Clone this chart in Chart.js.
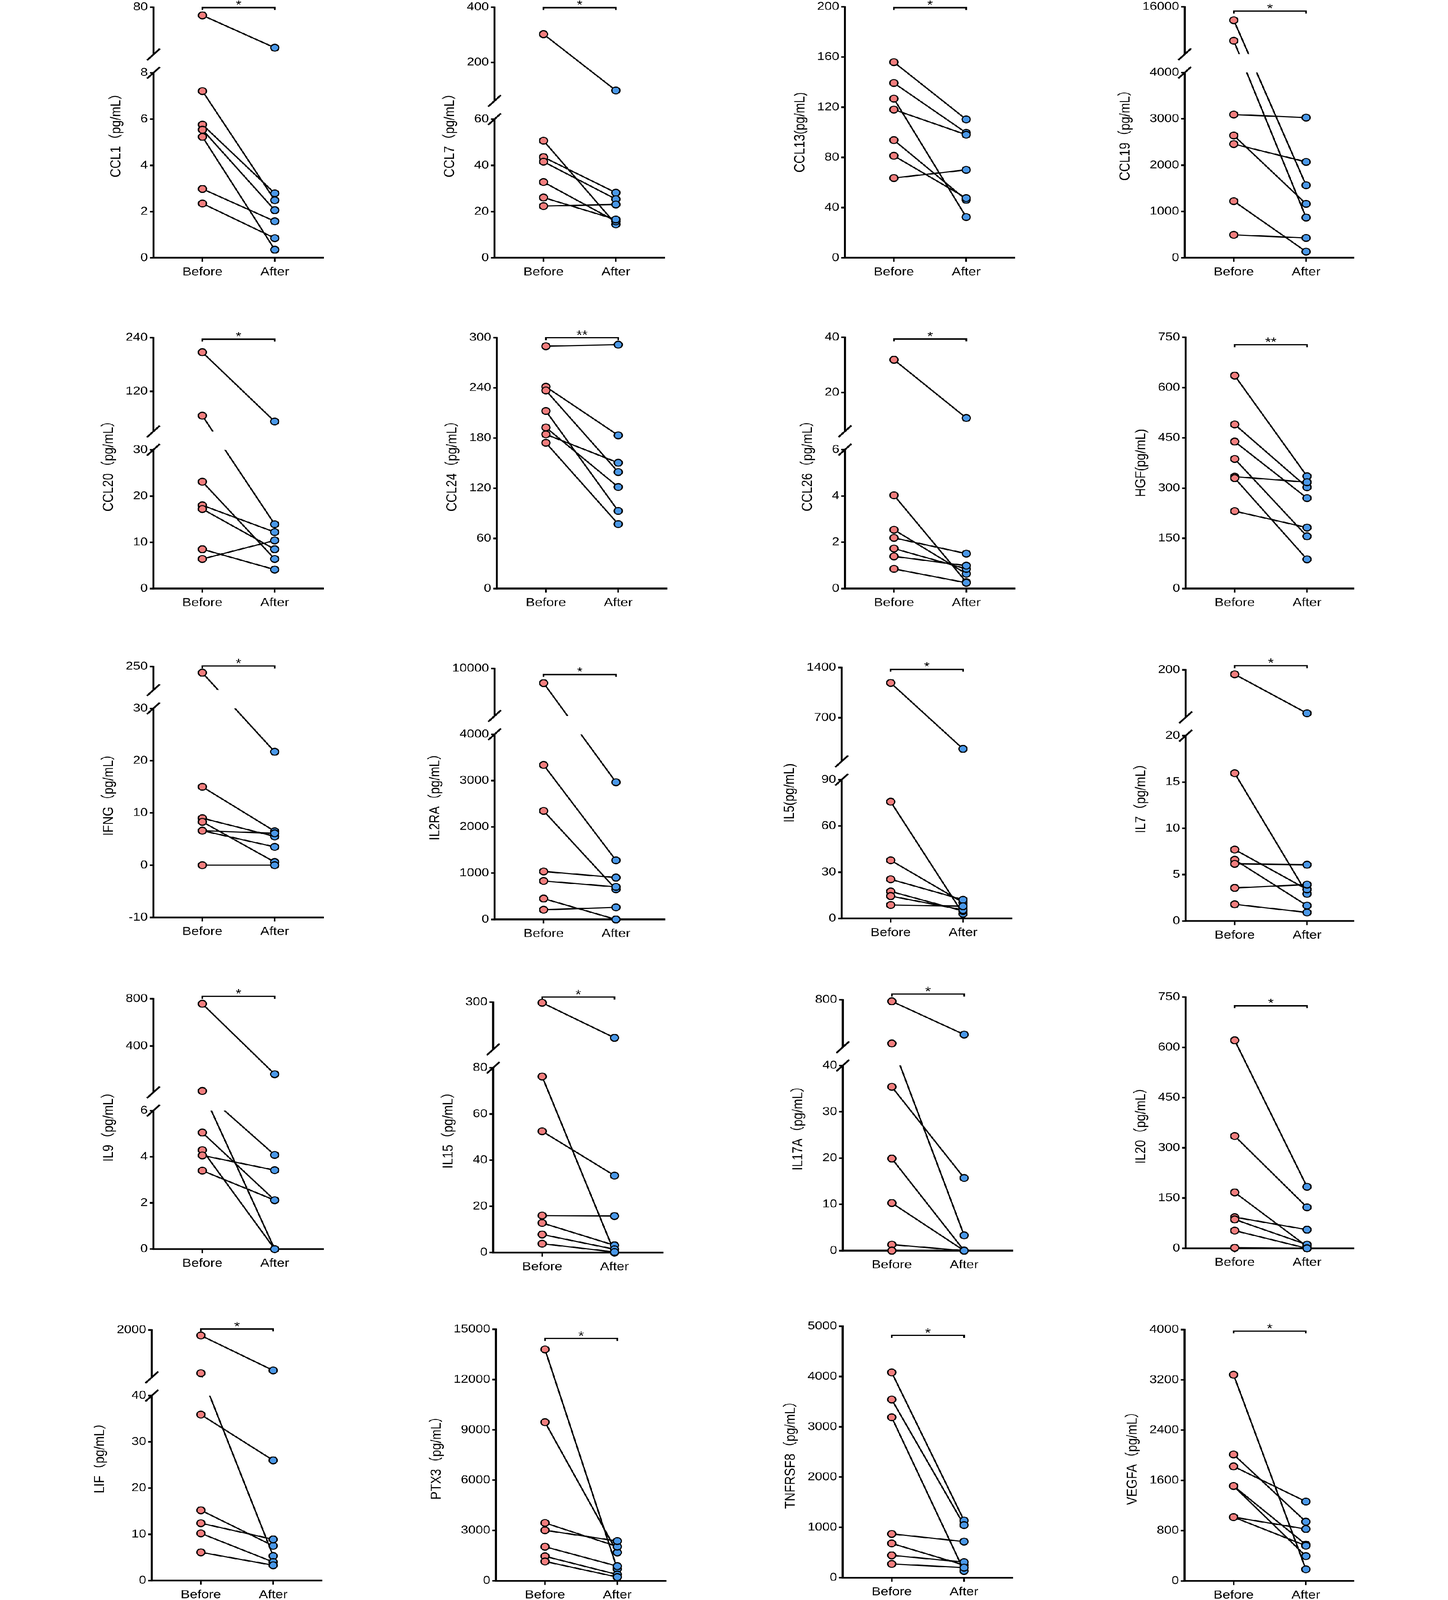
<!DOCTYPE html>
<html>
<head>
<meta charset="utf-8">
<script src="https://cdn.jsdelivr.net/npm/chart.js@4.4.1/dist/chart.umd.min.js"></script>
<style>
  html, body { margin: 0; padding: 0; background: #fff; overflow: hidden; }
  #page { position: relative; width: 3706px; height: 4705px; overflow: hidden; background: #fff;
          transform-origin: 0 0; }
  .panel { position: absolute; transform-origin: 0 0; }
</style>
</head>
<body>
<div id="page"></div>
<script>
// ---- data ----
const markers = ['CCL1', 'CCL7', 'CCL13', 'CCL19',
                 'CCL20', 'CCL24', 'CCL26', 'HGF',
                 'IFNG', 'IL2RA', 'IL5', 'IL7',
                 'IL9', 'IL15', 'IL17A', 'IL20',
                 'LIF', 'PTX3', 'TNFRSF8', 'VEGFA'];

const yTitles = ['CCL1（pg/mL）', 'CCL7（pg/mL）', 'CCL13(pg/mL)', 'CCL19（pg/mL）',
                 'CCL20（pg/mL）', 'CCL24（pg/mL）', 'CCL26（pg/mL）', 'HGF(pg/mL)',
                 'IFNG（pg/mL）', 'IL2RA（pg/mL）', 'IL5(pg/mL)', 'IL7（pg/mL）',
                 'IL9（pg/mL）', 'IL15（pg/mL）', 'IL17A（pg/mL）', 'IL20（pg/mL）',
                 'LIF（pg/mL）', 'PTX3（pg/mL）', 'TNFRSF8（pg/mL）', 'VEGFA（pg/mL）'];

const xLabels = ['Before', 'After'];

const yTicks = [
  [0, 2, 4, 6, 8, 80], [0, 20, 40, 60, 200, 400], [0, 40, 80, 120, 160, 200], [0, 1000, 2000, 3000, 4000, 16000],
  [0, 10, 20, 30, 120, 240], [0, 60, 120, 180, 240, 300], [0, 2, 4, 6, 20, 40], [0, 150, 300, 450, 600, 750],
  [-10, 0, 10, 20, 30, 250], [0, 1000, 2000, 3000, 4000, 10000], [0, 30, 60, 90, 700, 1400], [0, 5, 10, 15, 20, 200],
  [0, 2, 4, 6, 400, 800], [0, 20, 40, 60, 80, 300], [0, 10, 20, 30, 40, 800], [0, 150, 300, 450, 600, 750],
  [0, 10, 20, 30, 40, 2000], [0, 3000, 6000, 9000, 12000, 15000], [0, 1000, 2000, 3000, 4000, 5000], [0, 800, 1600, 2400, 3200, 4000]
];

// value where the lower segment of a broken axis ends (null = unbroken)
const axisBreak = [8, 60, null, 4000,
                   30, null, 6, null,
                   30, 4000, 90, 20,
                   6, 80, 40, null,
                   40, null, null, null];

const beforeVals = [
  [67.5, 7.21, 5.76, 5.54, 5.23, 2.98, 2.35],
  [302, 50.7, 43.6, 41.6, 32.8, 26.1, 22.4],
  [155.9, 139.3, 126.8, 118.1, 93.8, 81.3, 63.6],
  [12600, 7415, 3094, 2642, 2457, 1224, 496],
  [207.4, 65.4, 23.1, 18.0, 17.2, 8.5, 6.4],
  [289.8, 241.3, 236.9, 212.3, 192.6, 184.4, 174.3],
  [31.9, 4.03, 2.54, 2.19, 1.73, 1.39, 0.85],
  [635.9, 490, 438.8, 387, 334.2, 329.7, 231.2],
  [192, 15.0, 9.0, 8.3, 6.6, 6.6, 0],
  [8163, 3337, 2345, 1036, 831, 450, 209],
  [1186, 75.7, 37.7, 25.4, 17.5, 14.5, 8.7],
  [183.4, 15.95, 7.71, 6.61, 6.17, 3.57, 1.80],
  [757, 17.8, 17.8, 5.05, 4.29, 4.06, 3.40],
  [297.3, 76.2, 52.5, 16.0, 12.8, 7.8, 3.8],
  [775.5, 100, 35.4, 19.9, 10.3, 1.3, 0],
  [620.8, 335.2, 167, 93, 86.3, 52.9, 1.7],
  [1773, 212, 35.9, 15.2, 12.4, 10.2, 6.1],
  [13800, 9460, 3450, 3010, 2030, 1460, 1150],
  [4082, 3543, 3190, 871, 682, 445, 273],
  [3282, 2013, 1823, 1511, 1511, 1015, 1015]
];

const afterVals = [
  [18.3, 2.49, 2.79, 2.06, 0.35, 1.58, 0.85],
  [97.9, 14.5, 28.2, 25.4, 15.8, 16.6, 23.1],
  [110.3, 99.6, 32.5, 98.1, 46.2, 47.6, 70.1],
  [1567, 870, 3028, 1165, 2071, 134, 429],
  [52.4, 13.9, 6.4, 12.2, 8.5, 4.1, 10.4],
  [291.6, 183.2, 139.3, 92.8, 121.4, 150.4, 77.1],
  [10.8, 0.28, 0.64, 1.51, 0.85, 0.99, 0.25],
  [335.3, 302.4, 270.1, 156, 317.5, 87.5, 182.1],
  [21.7, 6.5, 5.5, 0.6, 3.5, 6.1, 0],
  [2964, 1277, 651, 904, 703, 0, 261],
  [264, 3.0, 10.3, 12.1, 4.8, 5.5, 7.9],
  [35.5, 2.93, 3.41, 1.66, 6.07, 3.93, 0.92],
  [160.4, 4.08, 0, 2.12, 0, 3.42, 2.12],
  [134.4, 0, 33.3, 15.8, 3.1, 1.4, 0.2],
  [242.6, 3.3, 15.7, 0, 0, 0, 0],
  [183.7, 122.5, 5.6, 55.7, 11.1, 0, 0],
  [326, 5.3, 26.0, 7.5, 8.9, 4.0, 3.3],
  [700, 1690, 2040, 2370, 870, 370, 220],
  [1137, 1046, 135, 718, 251, 310, 200],
  [184, 942, 1263, 394, 578, 826, 560]
];

const signif = ['*', '*', '*', '*',
                '*', '**', '*', '**',
                '*', '*', '*', '*',
                '*', '*', '*', '*',
                '*', '*', '*', '*'];

// ---- layout (page pixels) ----
const bracketAt = [79.2, 398, 199.3, 14905,
                   236.7, 300, 39.4, 727.7,
                   255, 9237, 1374, 215.9,
                   820, 324, 891.6, 723.8,
                   2038, 14454, 4817, 3977];
const breakFrac = [0.738, 0.553, null, 0.738,
                   0.553, null, 0.553, null,
                   0.833, 0.738, 0.553, 0.738,
                   0.553, 0.738, 0.738, null,
                   0.738, null, null, null];
const axisLeft = [175, 1178, 2208, 3207,
                  175, 1185, 2208, 3210,
                  175, 1178, 2199, 3210,
                  175, 1174, 2202, 3210,
                  171, 1182, 2202, 3207];
const axisTop = [21.4, 21.4, 20.4, 20.4,
                 992.9, 992.9, 991.8, 991.8,
                 1960, 1965.7, 1962.9, 1969.5,
                 2937.3, 2946.6, 2939.5, 2931.8,
                 3911.2, 3908.5, 3900.4, 3909.6];
const axisBottom = [758.6, 758.6, 758.6, 758.6,
                    1730.6, 1730.6, 1730.6, 1730.6,
                    2697.9, 2703.4, 2700.6, 2707.8,
                    3673.4, 3682.7, 3677.2, 3670.7,
                    4647.9, 4647.9, 4639.8, 4648.4];

const PAGE_W = 3706, PAGE_H = 4705;
const STRETCH = 1.18;      // the figure is drawn a little wider than tall
const PLOT_W = 495;        // x axis length
const BEFORE_OFF = 143;    // y axis -> Before
const PAIR_GAP = 211;      // Before -> After
const GAP = 0.073;         // size of the axis break
const RED = '#F27E7E';
const BLUE = '#4A98E8';
const FONT = '"Liberation Sans", Arial, sans-serif';
const TITLE_FONT = '"Liberation Sans", "Noto Sans CJK SC", sans-serif';

// linear scale with an optional break: lower part [min, at], upper part [at, max]
class BrokenScale extends Chart.LinearScale {
  getPixelForValue(value) {
    const b = this.options.brk;
    if (!b || value === null || value === undefined) return super.getPixelForValue(value);
    const f = b.frac, g = b.frac + b.gap;
    const d = value <= b.at
      ? (value - this.min) / (b.at - this.min) * f
      : g + (value - b.at) / (this.max - b.at) * (1 - g);
    return this.getPixelForDecimal(d);
  }
  getValueForPixel(pixel) {
    const b = this.options.brk;
    if (!b) return super.getValueForPixel(pixel);
    const d = this.getDecimalForPixel(pixel);
    const f = b.frac, g = b.frac + b.gap;
    if (d <= f) return this.min + d / f * (b.at - this.min);
    return b.at + (d - g) / (1 - g) * (this.max - b.at);
  }
}
BrokenScale.id = 'broken';
BrokenScale.defaults = {};
Chart.register(BrokenScale);

function breakPixels(y) {
  const b = y.options.brk;
  return [y.getPixelForValue(b.at), y.getPixelForDecimal(b.frac + b.gap)];
}

const prismAxis = {
  id: 'prismAxis',
  beforeDatasetDraw(chart, args) {
    const ds = chart.data.datasets[args.index];
    const y = chart.scales.y;
    if (!ds.link || !y.options.brk) return;
    const a = chart.chartArea, ctx = chart.ctx;
    const [pLow, pHigh] = breakPixels(y);
    ctx.save();
    ctx.beginPath();
    ctx.rect(0, 0, chart.width, chart.height);
    ctx.rect(a.left, pHigh, a.right - a.left, pLow - pHigh);
    ctx.clip('evenodd');
  },
  afterDatasetDraw(chart, args) {
    const ds = chart.data.datasets[args.index];
    if (ds.link && chart.scales.y.options.brk) chart.ctx.restore();
  },
  afterDraw(chart, args, opts) {
    const ctx = chart.ctx, x = chart.scales.x, y = chart.scales.y, a = chart.chartArea;
    ctx.save();
    ctx.strokeStyle = '#000';
    ctx.lineWidth = 4.8;
    ctx.lineCap = 'butt';
    const bottom = y.getPixelForValue(y.min) + 2.5;
    const top = y.getPixelForValue(y.max) - 2.25;
    ctx.beginPath();
    if (y.options.brk) {
      const [pLow, pHigh] = breakPixels(y);
      ctx.moveTo(a.left, bottom); ctx.lineTo(a.left, pLow);
      ctx.moveTo(a.left, pHigh); ctx.lineTo(a.left, top);
      [pLow, pHigh].forEach(p => { ctx.moveTo(a.left - 16, p + 17); ctx.lineTo(a.left + 16, p - 17); });
    } else {
      ctx.moveTo(a.left, bottom); ctx.lineTo(a.left, top);
    }
    ctx.stroke();

    // significance bracket
    const x1 = x.getPixelForValue(1), x2 = x.getPixelForValue(2);
    const yb = y.getPixelForValue(opts.bracket);
    ctx.lineWidth = 4;
    ctx.beginPath();
    ctx.moveTo(x1, yb + 7); ctx.lineTo(x1, yb); ctx.lineTo(x2, yb); ctx.lineTo(x2, yb + 7);
    ctx.stroke();
    ctx.fillStyle = '#000';
    ctx.font = '36px ' + FONT;
    ctx.textAlign = 'center';
    ctx.textBaseline = 'alphabetic';
    ctx.fillText(opts.stars, (x1 + x2) / 2, yb + 4);
    ctx.restore();
  }
};

const page = document.getElementById('page');

// the window may be shorter than the figure: shrink the whole page to fit
const fit = Math.min(1, window.innerWidth / PAGE_W, window.innerHeight / PAGE_H);
page.style.transform = 'scale(' + fit + ')';
page.style.marginLeft = ((window.innerWidth - PAGE_W * fit) / 2) + 'px';

markers.forEach((name, i) => {
  const wrap = document.createElement('div');
  wrap.className = 'panel';
  wrap.style.transform = 'scaleX(' + STRETCH + ')';
  const cv = document.createElement('canvas');
  cv.width = 640;
  cv.height = 960;
  wrap.appendChild(cv);
  page.appendChild(wrap);

  const ticks = yTicks[i];
  const datasets = [
    { data: beforeVals[i].map(v => ({ x: 1, y: v })), showLine: false, clip: false,
      pointRadius: 10, pointBackgroundColor: RED, pointBorderColor: '#000', pointBorderWidth: 3.3 },
    { data: afterVals[i].map(v => ({ x: 2, y: v })), showLine: false, clip: false,
      pointRadius: 10, pointBackgroundColor: BLUE, pointBorderColor: '#000', pointBorderWidth: 3.3 }
  ];
  beforeVals[i].forEach((v, k) => {
    datasets.push({ link: true, data: [{ x: 1, y: v }, { x: 2, y: afterVals[i][k] }],
      showLine: true, pointRadius: 0, borderColor: '#000', borderWidth: 3.8, clip: false });
  });

  const opts = {
    responsive: false,
    animation: false,
    devicePixelRatio: 2,
    events: [],
    layout: { padding: { top: 80, left: 0, right: 10, bottom: 10 } },
    plugins: {
      legend: { display: false },
      tooltip: { enabled: false },
      prismAxis: { bracket: bracketAt[i], stars: signif[i] }
    },
    scales: {
      x: {
        type: 'linear',
        min: 1 - BEFORE_OFF / PAIR_GAP,
        max: 1 + (PLOT_W - BEFORE_OFF) / PAIR_GAP,
        afterBuildTicks: s => { s.ticks = [{ value: 1 }, { value: 2 }]; },
        border: { display: true, color: '#000', width: 5.2 },
        grid: { drawOnChartArea: false, drawTicks: true, tickLength: 12, color: '#000', lineWidth: 3.8 },
        ticks: { autoSkip: false, maxRotation: 0, padding: 10, color: '#000',
                 font: { family: FONT, size: 34 },
                 callback: v => (v === 1 ? xLabels[0] : v === 2 ? xLabels[1] : '') }
      },
      y: {
        type: 'broken',
        min: ticks[0],
        max: ticks[ticks.length - 1],
        brk: axisBreak[i] === null ? null : { at: axisBreak[i], frac: breakFrac[i], gap: GAP },
        afterBuildTicks: s => { s.ticks = ticks.map(v => ({ value: v })); },
        border: { display: false },
        grid: { drawOnChartArea: false, drawTicks: true, tickLength: 9, color: '#000', lineWidth: 4.8 },
        ticks: { autoSkip: false, padding: 5, color: '#000',
                 font: { family: FONT, size: 33 }, callback: v => String(v) },
        title: { display: true, text: yTitles[i], color: '#000',
                 font: { family: TITLE_FONT, size: 36 }, padding: { top: 0, bottom: 15 } }
      }
    }
  };

  const chart = new Chart(cv, { type: 'scatter', data: { datasets }, options: opts, plugins: [prismAxis] });

  // fit the plot area to the reference size, then place the panel
  let a = chart.chartArea;
  opts.layout.padding.right += (a.right - a.left) - PLOT_W / STRETCH;
  opts.layout.padding.bottom += (a.bottom - a.top) - (axisBottom[i] - axisTop[i]);
  chart.update('none');
  a = chart.chartArea;
  wrap.style.left = (axisLeft[i] - STRETCH * a.left) + 'px';
  wrap.style.top = (axisTop[i] - a.top) + 'px';
});
</script>
</body>
</html>
